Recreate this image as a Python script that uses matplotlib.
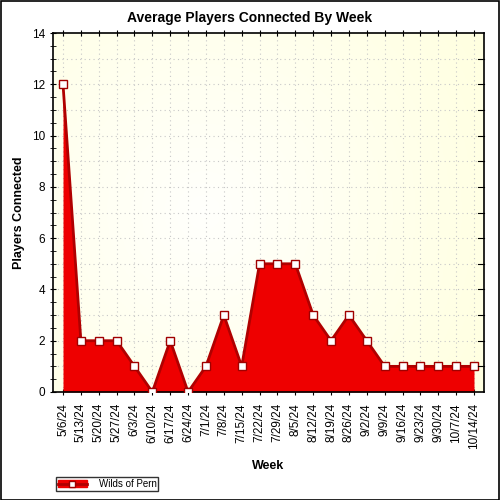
import matplotlib
matplotlib.use("Agg")
import matplotlib.pyplot as plt
import numpy as np
from matplotlib.lines import Line2D
from matplotlib.patches import Rectangle

# data
weeks = ["5/6/24", "5/13/24", "5/20/24", "5/27/24", "6/3/24", "6/10/24", "6/17/24",
         "6/24/24", "7/1/24", "7/8/24", "7/15/24", "7/22/24", "7/29/24", "8/5/24",
         "8/12/24", "8/19/24", "8/26/24", "9/2/24", "9/9/24", "9/16/24", "9/23/24",
         "9/30/24", "10/7/24", "10/14/24"]
players = [12, 2, 2, 2, 1, 0, 2, 0, 1, 3, 1, 5, 5, 5, 3, 2, 3, 2, 1, 1, 1, 1, 1, 1]
series_name = "Wilds of Pern"

plt.rcParams['font.family'] = ['Liberation Sans', 'DejaVu Sans']

fig = plt.figure(figsize=(5, 5), dpi=100)
fig.patch.set_facecolor("white")
fig.add_artist(Rectangle((0.001, 0.001), 0.997, 0.997, transform=fig.transFigure,
                         fill=False, edgecolor="black", linewidth=1.2))

ax = fig.add_axes([0.106, 0.216, 0.862, 0.718])
x = np.arange(len(weeks))
xmin, xmax = -0.56, len(weeks) - 1 + 0.56

# soft yellow background gradient
gx, gy = np.meshgrid(np.linspace(-1, 1, 200), np.linspace(-1, 1, 200))
r = np.clip(np.sqrt((gx + 0.3) ** 2 + (gy * 0.8) ** 2) / 1.5, 0, 1)
c0 = np.array([1.0, 1.0, 0.99])
c1 = np.array([1.0, 1.0, 0.88])
img = c0[None, None, :] * (1 - r[..., None]) + c1[None, None, :] * r[..., None]
ax.imshow(img, extent=[xmin, xmax, 0, 14], aspect="auto", zorder=0, origin="lower")

ax.fill_between(x, players, 0, color="#ee0000", zorder=2, linewidth=0)
ax.plot(x, players, color="#b00000", linewidth=2, zorder=3)
ax.plot(x, players, linestyle="none", marker="s", markersize=6,
        markerfacecolor="white", markeredgecolor="#a00000", markeredgewidth=1, zorder=4)

ax.set_xlim(xmin, xmax)
ax.set_ylim(0, 14)
ax.set_xticks(x)
ax.set_xticklabels(weeks, rotation=90, fontsize=8.5)
ax.set_yticks(np.arange(0, 15, 2))
ax.set_yticks(np.arange(0, 14.01, 0.5), minor=True)
ax.tick_params(axis="y", which="major", labelsize=8.5, length=4, direction="inout")
ax.tick_params(axis="y", which="minor", length=4, direction="inout")
ax.tick_params(axis="x", length=4, direction="inout", top=True, pad=6)

for yv in range(1, 14):
    ax.axhline(yv, color="#c8c8c8", linestyle=(0, (1, 3)), linewidth=0.8, zorder=1)
for xv in x:
    ax.axvline(xv, color="#c8c8c8", linestyle=(0, (1, 3)), linewidth=0.8, zorder=1)
for yv in range(1, 14):
    ax.plot([xmax - 0.35, xmax], [yv, yv], color="black", linewidth=0.8, zorder=5,
            clip_on=False)

for s in ax.spines.values():
    s.set_linewidth(1.2)

fig.text(0.5, 0.964, "Average Players Connected By Week", fontsize=10, fontweight="bold",
         ha="center", va="center")
ax.set_xlabel("Week", fontsize=9, fontweight="bold", labelpad=8)
ax.set_ylabel("Players Connected", fontsize=9, fontweight="bold", labelpad=5)

# legend
handle = (Rectangle((0, 0), 1, 1, color="#ee0000"),
          Line2D([], [], color="#b00000", marker="s", markersize=5,
                 markerfacecolor="white", markeredgecolor="#a00000", linewidth=2))
leg = fig.legend([handle], [series_name], loc="lower left", bbox_to_anchor=(0.102, 0.008),
                 fontsize=7, frameon=True, fancybox=False, edgecolor="black",
                 borderpad=0.2, handlelength=3, handletextpad=1.2)
leg.get_frame().set_linewidth(1)

fig.savefig("out.png", dpi=100)
